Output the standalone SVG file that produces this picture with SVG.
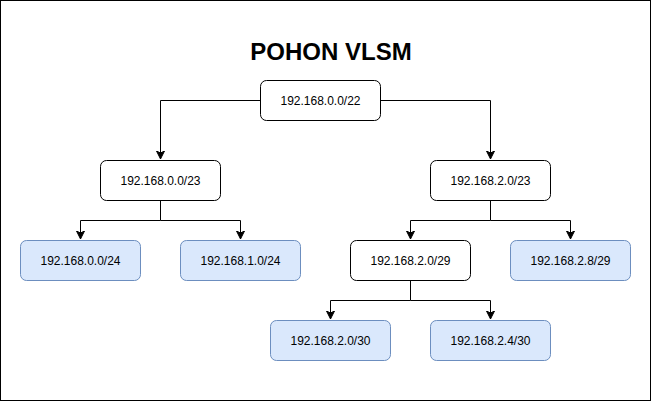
<svg xmlns="http://www.w3.org/2000/svg" width="651" height="401" viewBox="0 0 651 401">
<style>
.n{fill:#ffffff;stroke:#000000;stroke-width:1}
.b{fill:#dae8fc;stroke:#6c8ebf;stroke-width:1}
.t{font-family:"Liberation Sans",Arial,sans-serif;font-size:12px;fill:#000000;text-anchor:middle}
.c{fill:none;stroke:#000000;stroke-width:1}
</style>
<defs>
<marker id="arr" markerUnits="userSpaceOnUse" markerWidth="10" markerHeight="10" refX="8" refY="4" orient="auto" viewBox="0 0 10 8">
<path d="M0,0 L8,4 L0,8 L2,4 Z" fill="#000000" stroke="#000000" stroke-width="1"/>
</marker>
</defs>
<rect x="0.5" y="0.5" width="650" height="400" fill="#ffffff" stroke="#000000" stroke-width="1"/>
<text x="331" y="59.5" font-family="Liberation Sans,Arial,sans-serif" font-size="24" font-weight="bold" text-anchor="middle" fill="#000000">POHON VLSM</text>
<g id="connectors">
<path class="c" d="M260.5,100.5 H160.5 V159" marker-end="url(#arr)"/>
<path class="c" d="M380.5,100.5 H490.5 V159" marker-end="url(#arr)"/>
<path class="c" d="M160.5,200.5 V220.5 H80.5 V239" marker-end="url(#arr)"/>
<path class="c" d="M160.5,220.5 H240.5 V239" marker-end="url(#arr)"/>
<path class="c" d="M490.5,200.5 V220.5 H410.5 V239" marker-end="url(#arr)"/>
<path class="c" d="M490.5,220.5 H570.5 V239" marker-end="url(#arr)"/>
<path class="c" d="M410.5,280.5 V300.5 H330.5 V319" marker-end="url(#arr)"/>
<path class="c" d="M410.5,300.5 H490.5 V319" marker-end="url(#arr)"/>
</g>
<g id="n22"><rect class="n" x="260.5" y="80.5" width="120" height="40" rx="6"/><text class="t" x="320.5" y="104.5">192.168.0.0/22</text></g>
<g id="n023"><rect class="n" x="100.5" y="160.5" width="120" height="40" rx="6"/><text class="t" x="160.5" y="184.5">192.168.0.0/23</text></g>
<g id="n223"><rect class="n" x="430.5" y="160.5" width="120" height="40" rx="6"/><text class="t" x="490.5" y="184.5">192.168.2.0/23</text></g>
<g id="n024"><rect class="b" x="20.5" y="240.5" width="120" height="40" rx="6"/><text class="t" x="80.5" y="264.5">192.168.0.0/24</text></g>
<g id="n124"><rect class="b" x="180.5" y="240.5" width="120" height="40" rx="6"/><text class="t" x="240.5" y="264.5">192.168.1.0/24</text></g>
<g id="n029"><rect class="n" x="350.5" y="240.5" width="120" height="40" rx="6"/><text class="t" x="410.5" y="264.5">192.168.2.0/29</text></g>
<g id="n829"><rect class="b" x="510.5" y="240.5" width="120" height="40" rx="6"/><text class="t" x="570.5" y="264.5">192.168.2.8/29</text></g>
<g id="n030"><rect class="b" x="270.5" y="320.5" width="120" height="40" rx="6"/><text class="t" x="330.5" y="344.5">192.168.2.0/30</text></g>
<g id="n430"><rect class="b" x="430.5" y="320.5" width="120" height="40" rx="6"/><text class="t" x="490.5" y="344.5">192.168.2.4/30</text></g>
</svg>
